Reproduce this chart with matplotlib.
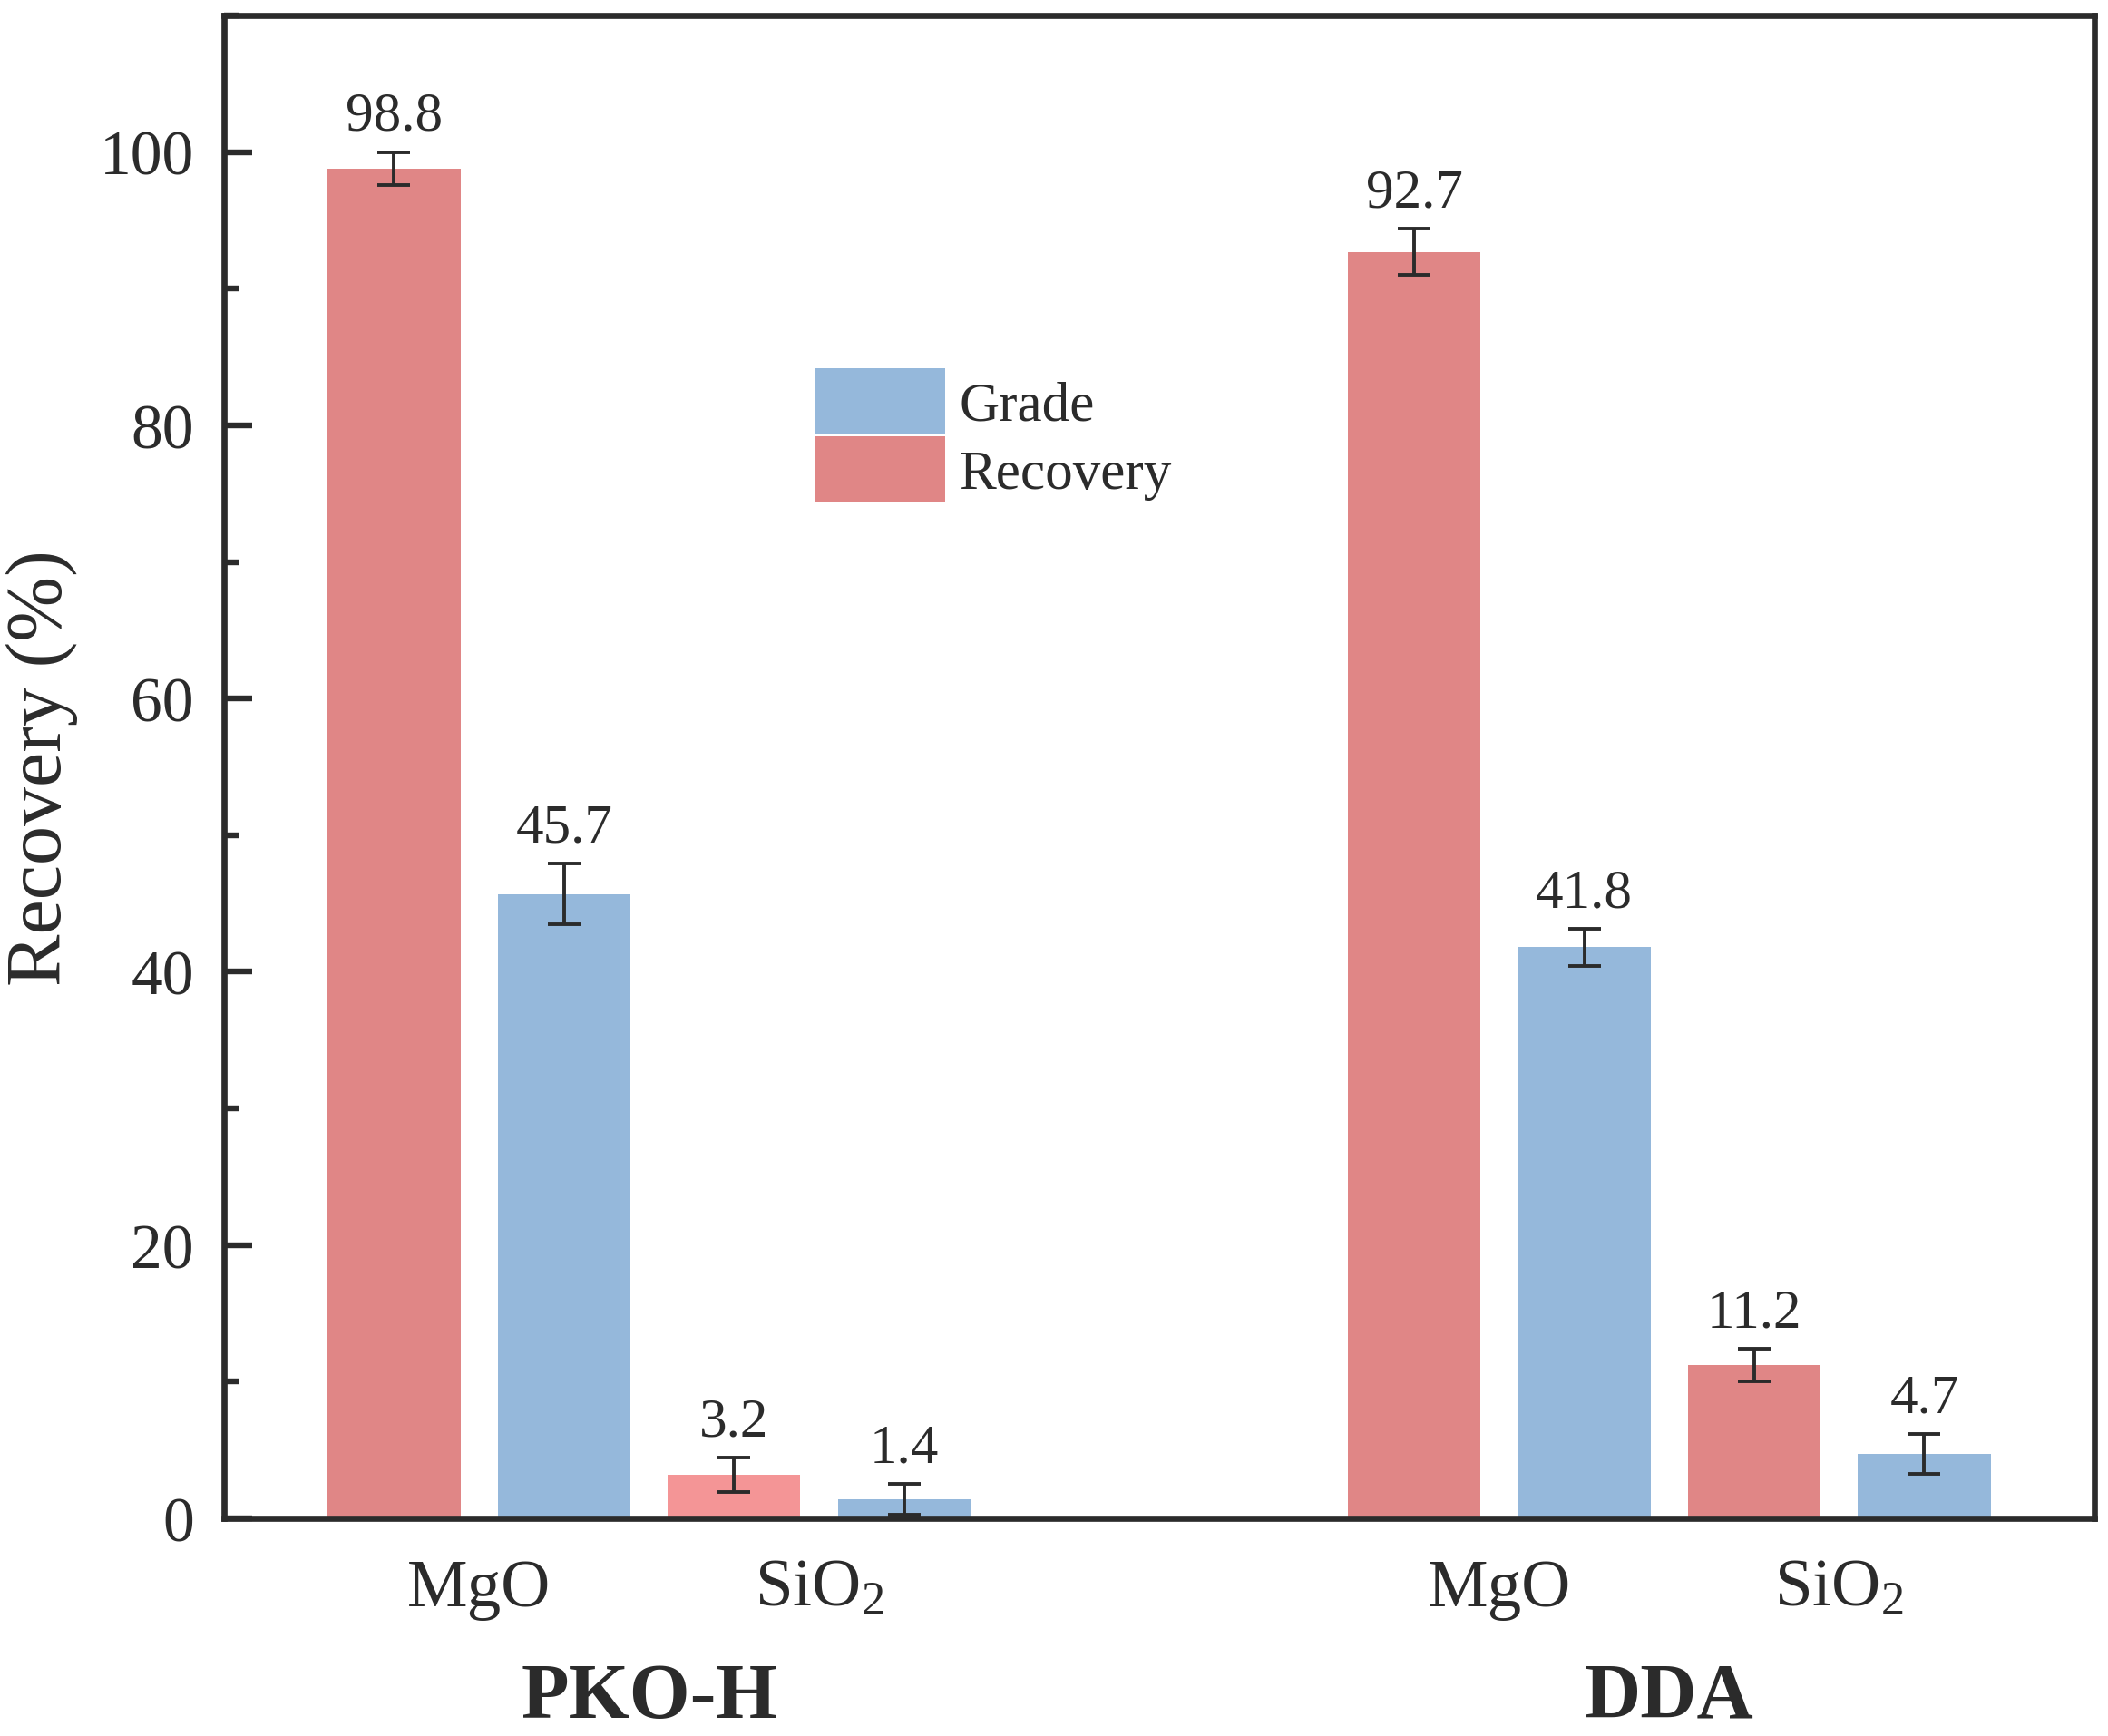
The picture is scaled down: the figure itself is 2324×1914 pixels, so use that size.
import numpy as np
import matplotlib
matplotlib.use('Agg')
import matplotlib.pyplot as plt
from matplotlib.ticker import MultipleLocator
from matplotlib.transforms import blended_transform_factory


# %% Data
GROUPS = ['PKO-H', 'DDA']
MINERALS = ['MgO', r'$\mathregular{SiO_2}$']
# order: PKO-H MgO, PKO-H SiO2, DDA MgO, DDA SiO2
RECOVERY = [98.8, 3.2, 92.7, 11.2]
RECOVERY_ERR = [1.2, 1.25, 1.7, 1.2]
GRADE = [45.7, 1.4, 41.8, 4.7]
GRADE_ERR = [2.2, 1.1, 1.35, 1.45]

INK = '#2b2b2b'
RED = '#e08686'
RED_LIGHT = '#f49596'
BLUE = '#95b8db'


def setup():
    '''Global style: Times-like serif, dark ink.'''
    plt.rcParams['font.family'] = ['Liberation Serif', 'DejaVu Serif']
    plt.rcParams['mathtext.fontset'] = 'custom'
    plt.rcParams['mathtext.rm'] = 'Liberation Serif'
    plt.rcParams['text.color'] = INK
    plt.rcParams['axes.labelcolor'] = INK
    plt.rcParams['xtick.color'] = INK
    plt.rcParams['ytick.color'] = INK


def label_bars(ax, xs, vals, errs):
    for x, v, e in zip(xs, vals, errs):
        ax.annotate(f'{v:.1f}', (x, v + e), xytext=(0, 9),
                    textcoords='offset points', ha='center',
                    va='baseline', fontsize=22)


def main():
    setup()
    fig = plt.figure(figsize=(11.62, 9.575), dpi=200)
    ax = fig.add_axes([0.1063, 0.1253, 0.8872, 0.8653])

    # two minerals per group, two bars per mineral, gap of one slot
    base = np.array([6 * g + 2 * m for g in range(len(GROUPS))
                     for m in range(len(MINERALS))], dtype=float)
    w = 0.78
    rec_cols = [RED, RED_LIGHT, RED, RED]
    ax.bar(base, RECOVERY, w, color=rec_cols, label='Recovery', zorder=2)
    ax.bar(base + 1, GRADE, w, color=BLUE, label='Grade', zorder=2)
    ax.errorbar(base, RECOVERY, yerr=RECOVERY_ERR, fmt='none',
                ecolor=INK, elinewidth=1.4, capsize=6.5, capthick=1.4,
                zorder=3)
    ax.errorbar(base + 1, GRADE, yerr=GRADE_ERR, fmt='none',
                ecolor=INK, elinewidth=1.4, capsize=6.5, capthick=1.4,
                zorder=3)
    label_bars(ax, base, RECOVERY, RECOVERY_ERR)
    label_bars(ax, base + 1, GRADE, GRADE_ERR)

    ax.set_xlim(-1, 10)
    ax.set_ylim(0, 110)
    ax.yaxis.set_major_locator(MultipleLocator(20))
    ax.yaxis.set_minor_locator(MultipleLocator(10))
    ax.set_yticks([0, 20, 40, 60, 80, 100])
    ax.tick_params(axis='y', which='major', direction='in', length=11,
                   width=2.3, labelsize=25, pad=12)
    ax.tick_params(axis='y', which='minor', direction='in', length=6,
                   width=2.3)
    ax.set_xticks(base + 0.5)
    ax.set_xticklabels(MINERALS * len(GROUPS))
    ax.tick_params(axis='x', length=0, labelsize=27, pad=16)
    for axis in ['top', 'bottom', 'left', 'right']:
        ax.spines[axis].set_linewidth(2.4)
        ax.spines[axis].set_color(INK)

    ax.set_ylabel('Recovery (%)', fontsize=31)
    ax.yaxis.set_label_coords(-0.078, 0.5)

    trans = blended_transform_factory(ax.transData, fig.transFigure)
    for g, name in enumerate(GROUPS):
        ax.text(6 * g + 1.5, 0.011, name, transform=trans, ha='center',
                va='baseline', fontsize=31, fontweight='bold')

    h, l = ax.get_legend_handles_labels()
    ax.legend(h[::-1], l[::-1], loc='upper left',
              bbox_to_anchor=(0.3157, 0.7652), frameon=False, fontsize=22,
              borderpad=0, borderaxespad=0, handlelength=2.36,
              handleheight=1.44, labelspacing=0.05, handletextpad=0.25)

    fig.savefig('out.png', dpi=200)


if __name__ == '__main__':
    main()
